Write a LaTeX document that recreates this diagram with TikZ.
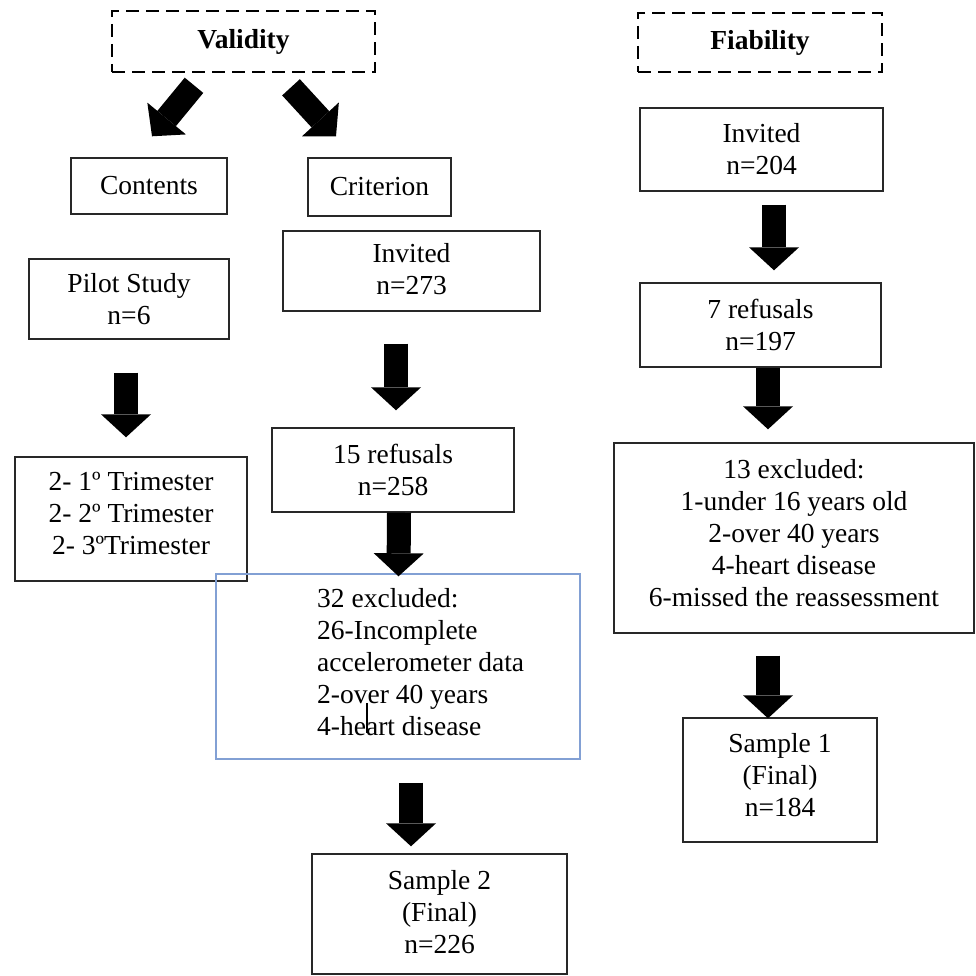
\documentclass[tikz,border=0pt]{standalone}
\usepackage{fontspec}
\setmainfont{Liberation Serif}
\usetikzlibrary{arrows.meta}
\definecolor{bord}{RGB}{40,40,40}
\definecolor{bluebord}{RGB}{130,160,212}
\begin{document}
\begin{tikzpicture}[x=1pt, y=-1pt,
  box/.style={draw=bord, line width=1.4pt, inner sep=0pt, align=center,
    font=\fontsize{27.5}{32}\selectfont},
  bluebox/.style={draw=bluebord, line width=1.4pt, inner sep=0pt},
  dbox/.style={draw=black, line width=2.6pt, dash pattern=on 13pt off 7pt,
    inner sep=0pt, font=\bfseries\fontsize{27.5}{32}\selectfont},
  txt/.style={inner sep=0pt, align=left, font=\fontsize{27.5}{32}\selectfont},
  blk/.style={line width=24pt, -{Triangle[width=50pt,length=23pt,line width=0pt]}}]
\fill[white] (0,0) rectangle (975,976);
\useasboundingbox (0,0) rectangle (975,976);

% headers
\node[dbox, minimum width=263pt, minimum height=61pt] (val) at (243.5,41.5) {Validity};
\node[dbox, minimum width=244pt, minimum height=59pt] (fia) at (760,42.5) {Fiability};

% validity branch
\node[box, minimum width=156pt, minimum height=56pt] (cont) at (149,186) {Contents};
\node[box, minimum width=143pt, minimum height=58pt] (crit) at (379.5,187) {Criterion};
\node[box, minimum width=200pt, minimum height=80pt] (pilot) at (129,299) {Pilot Study\\n=6};
\node[box, minimum width=232pt, minimum height=124pt, text depth=12pt] (tri) at (131,519)
  {2- 1º Trimester\\2- 2º Trimester\\2- 3ºTrimester};
\node[box, minimum width=257pt, minimum height=80pt, text depth=4pt] (inv1) at (411.5,271) {Invited\\n=273};
\node[box, minimum width=242pt, minimum height=84pt] (ref1) at (393,470) {15 refusals\\n=258};
\node[bluebox, minimum width=364pt, minimum height=185pt] (exc1) at (398,666.5) {};
\node[txt, anchor=north west] (exc1t) at (317,588)
  {32 excluded:\\26-Incomplete\\accelerometer data\\2-over 40 years\\4-heart disease};
\node[box, minimum width=255pt, minimum height=120pt, text depth=4pt] (s2) at (439.5,914) {Sample 2\\(Final)\\n=226};

% fiability branch
\node[box, minimum width=243pt, minimum height=83pt] (inv2) at (761.5,149.5) {Invited\\n=204};
\node[box, minimum width=241pt, minimum height=84pt] (ref2) at (760.5,325) {7 refusals\\n=197};
\node[box, minimum width=360pt, minimum height=190pt, text depth=10pt] (exc2) at (794,538)
  {13 excluded:\\1-under 16 years old\\2-over 40 years\\4-heart disease\\6-missed the reassessment};
\node[box, minimum width=194pt, minimum height=124pt, text depth=10pt] (s1) at (780,780) {Sample 1\\(Final)\\n=184};

% text cursor mark
\draw[line width=1.3pt] ([shift={(-31,36.5)}]exc1.center) -- ([shift={(-31,66.5)}]exc1.center);

% block arrows
\draw[blk] ([shift={(-49.5,12)}]val.south) -- ([shift={(3,-21)}]cont.north);
\draw[blk] ([shift={(47.5,14)}]val.south) -- ([shift={(-43.5,-21)}]crit.north);
\draw[blk] ([shift={(-3,33)}]pilot.south) -- ([shift={(-5,-19)}]tri.north);
\draw[blk] ([shift={(-15.5,32)}]inv1.south) -- ([shift={(3,-17)}]ref1.north);
\draw[blk] ([shift={(6,0)}]ref1.south) -- ([shift={(0.5,3)}]exc1.north);
\draw[blk] ([shift={(13,23)}]exc1.south) -- ([shift={(-28.5,-7)}]s2.north);
\draw[blk] ([shift={(12.5,13)}]inv2.south) -- ([shift={(13.5,-12)}]ref2.north);
\draw[blk] ([shift={(7.5,0)}]ref2.south) -- ([shift={(-26,-13)}]exc2.north);
\draw[blk] ([shift={(-26,22)}]exc2.south) -- ([shift={(-12,1)}]s1.north);
\end{tikzpicture}
\end{document}
